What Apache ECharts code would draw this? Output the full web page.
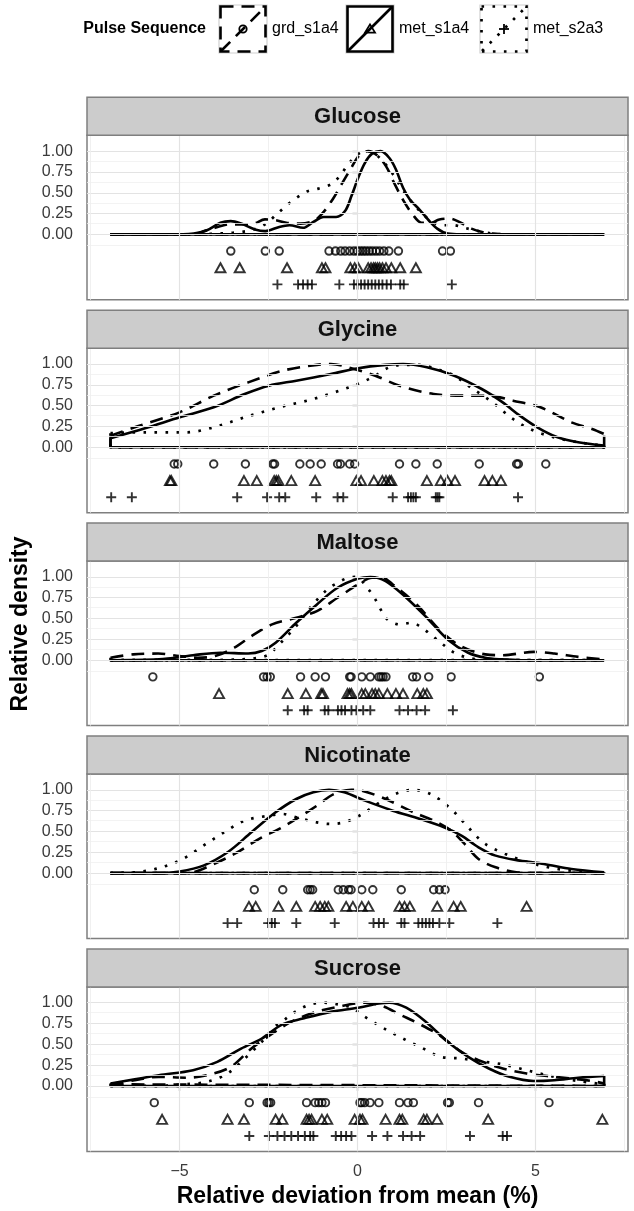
<!DOCTYPE html>
<html>
<head>
<meta charset="utf-8">
<script src="https://cdn.jsdelivr.net/npm/echarts@6/dist/echarts.min.js"></script>
<style>
  html, body { margin: 0; padding: 0; background: #ffffff; }
  #chart { width: 634px; height: 1211px; }
</style>
</head>
<body>
<div id="chart"></div>
<script>
// ---- data -------------------------------------------------------------
const compounds = ['Glucose', 'Glycine', 'Maltose', 'Nicotinate', 'Sucrose'];
const sequences = ['grd_s1a4', 'met_s1a4', 'met_s2a3'];
const yTicks = [0, 0.25, 0.5, 0.75, 1];
const xTicks = [-5, 0, 5];
// vertical level of each sequence's measurement row
const rugRows = [-0.2, -0.4, -0.6];

// relative density curves: [deviation %, density scaled to max 1]
const glucoseGrd = [[-6.94,0],[-4.6,0],[-4.3,0.04],[-4.0,0.08],[-3.6,0.12],[-3.2,0.12],[-2.9,0.13],[-2.6,0.18],[-2.3,0.17],[-2.0,0.14],[-1.6,0.13],[-1.2,0.17],[-0.95,0.27],[-0.7,0.42],[-0.45,0.6],[-0.2,0.78],[0.05,0.95],[0.3,1.0],[0.55,0.95],[0.8,0.82],[1.05,0.6],[1.3,0.4],[1.55,0.24],[1.8,0.14],[2.05,0.14],[2.3,0.18],[2.6,0.19],[2.9,0.14],[3.2,0.07],[3.5,0.03],[3.8,0.01],[4.1,0],[6.93,0]];
const glucoseMet = [[-6.94,0],[-4.9,0],[-4.6,0.01],[-4.23,0.05],[-3.85,0.14],[-3.56,0.16],[-3.27,0.13],[-2.88,0.06],[-2.59,0.04],[-2.2,0.09],[-1.91,0.11],[-1.53,0.08],[-1.24,0.15],[-0.95,0.21],[-0.6,0.21],[-0.35,0.28],[-0.17,0.46],[0.02,0.68],[0.21,0.86],[0.41,0.97],[0.65,1.0],[0.89,0.92],[1.08,0.78],[1.28,0.56],[1.47,0.42],[1.76,0.29],[2.0,0.17],[2.24,0.07],[2.53,0.01],[2.9,0],[6.93,0]];
const glucoseS2a3 = [[-6.94,0],[-4.5,0],[-4.0,0.01],[-3.5,0.02],[-3.0,0.05],[-2.6,0.12],[-2.25,0.25],[-1.9,0.38],[-1.45,0.51],[-1.1,0.55],[-0.75,0.6],[-0.5,0.7],[-0.25,0.85],[0.0,0.96],[0.2,1.0],[0.45,0.98],[0.75,0.86],[1.0,0.72],[1.25,0.55],[1.5,0.4],[1.8,0.26],[2.1,0.15],[2.4,0.11],[2.7,0.11],[3.0,0.08],[3.4,0.04],[3.8,0.01],[4.2,0],[6.93,0]];

const glycineGrd = [[-6.94,0.14],[-6.26,0.24],[-5.0,0.42],[-4.04,0.62],[-3.07,0.78],[-2.1,0.92],[-1.14,0.99],[-0.75,1.0],[-0.17,0.95],[0.5,0.86],[1.18,0.74],[2.14,0.64],[3.11,0.62],[3.69,0.62],[4.37,0.56],[5.14,0.48],[6.01,0.3],[6.59,0.22],[6.93,0.16]];
const glycineMet = [[-6.94,0.11],[-5.97,0.23],[-4.99,0.36],[-4.04,0.48],[-3.17,0.64],[-2.49,0.74],[-1.72,0.8],[-0.75,0.88],[0.02,0.95],[0.79,0.99],[1.28,1.0],[1.95,0.96],[2.72,0.86],[3.49,0.7],[4.08,0.54],[4.56,0.38],[5.05,0.24],[5.62,0.12],[6.2,0.06],[6.93,0.02]];
const glycineS2a3 = [[-6.94,0.17],[-6.0,0.18],[-4.8,0.18],[-4.04,0.24],[-3.17,0.36],[-2.2,0.48],[-1.24,0.58],[-0.37,0.7],[0.12,0.78],[0.5,0.86],[0.89,0.96],[1.28,0.99],[1.76,0.99],[2.22,0.94],[2.72,0.86],[3.11,0.74],[3.79,0.54],[4.37,0.34],[4.95,0.2],[5.53,0.12],[6.2,0.06],[6.93,0.02]];

const maltoseGrd = [[-6.94,0.03],[-6.3,0.07],[-5.6,0.08],[-5.0,0.05],[-4.5,0.03],[-4.0,0.05],[-3.46,0.15],[-2.98,0.29],[-2.4,0.43],[-1.72,0.51],[-1.14,0.59],[-0.56,0.75],[0.02,0.91],[0.41,0.99],[0.7,0.99],[0.99,0.91],[1.66,0.67],[2.34,0.35],[2.9,0.17],[3.59,0.07],[4.08,0.06],[4.95,0.1],[5.53,0.08],[6.2,0.04],[6.93,0.01]];
const maltoseMet = [[-6.94,0],[-5.58,0.01],[-4.62,0.06],[-3.85,0.09],[-3.07,0.08],[-2.69,0.11],[-2.3,0.21],[-1.72,0.45],[-1.14,0.67],[-0.56,0.87],[0.02,0.98],[0.36,1.0],[0.79,0.95],[1.37,0.75],[1.95,0.51],[2.53,0.25],[3.11,0.09],[3.59,0.03],[4.06,0.01],[4.6,0],[6.93,0]];
const maltoseS2a3 = [[-6.94,0],[-4.0,0],[-3.3,0.01],[-2.78,0.03],[-2.49,0.07],[-2.2,0.19],[-1.72,0.41],[-1.33,0.63],[-0.85,0.85],[-0.56,0.93],[-0.27,0.99],[-0.05,1.0],[0.31,0.85],[0.5,0.73],[0.65,0.61],[0.84,0.49],[1.18,0.43],[1.52,0.45],[1.81,0.39],[2.05,0.31],[2.34,0.21],[2.72,0.09],[3.11,0.03],[3.6,0],[6.93,0]];

const nicotinateGrd = [[-6.94,0],[-5.0,0],[-4.62,0.01],[-4.14,0.09],[-3.46,0.23],[-2.69,0.43],[-2.2,0.53],[-1.72,0.65],[-1.14,0.81],[-0.66,0.95],[-0.17,1.0],[0.12,0.99],[0.79,0.89],[1.57,0.73],[2.14,0.63],[2.63,0.51],[3.01,0.35],[3.4,0.17],[3.88,0.07],[4.46,0.01],[5.0,0],[6.93,0]];
const nicotinateMet = [[-6.94,0],[-5.58,0],[-5.0,0.02],[-4.33,0.09],[-3.65,0.25],[-2.98,0.49],[-2.3,0.73],[-1.72,0.89],[-1.24,0.97],[-0.8,1.0],[-0.37,0.97],[0.21,0.87],[0.99,0.75],[1.76,0.65],[2.43,0.55],[2.92,0.45],[3.4,0.31],[3.88,0.21],[4.56,0.15],[5.24,0.11],[6.01,0.05],[6.93,0.01]];
const nicotinateS2a3 = [[-6.94,0],[-6.26,0.01],[-5.58,0.06],[-4.91,0.17],[-4.33,0.33],[-3.75,0.49],[-3.17,0.63],[-2.49,0.69],[-2.1,0.71],[-1.72,0.67],[-1.14,0.61],[-0.75,0.59],[-0.37,0.61],[-0.08,0.66],[0.21,0.73],[0.7,0.87],[1.18,0.97],[1.57,1.0],[2.05,0.95],[2.63,0.77],[3.11,0.55],[3.59,0.35],[4.27,0.21],[4.95,0.11],[5.62,0.05],[6.49,0.01],[6.93,0]];

const sucroseGrd = [[-6.94,0.02],[-6.26,0.07],[-5.58,0.11],[-4.81,0.1],[-4.23,0.13],[-3.56,0.23],[-2.98,0.45],[-2.49,0.6],[-1.91,0.76],[-1.24,0.88],[-0.56,0.95],[0.21,1.0],[0.7,0.96],[1.18,0.86],[1.76,0.74],[2.34,0.6],[2.92,0.41],[3.4,0.31],[4.08,0.21],[4.75,0.15],[5.33,0.12],[6.01,0.09],[6.59,0.06],[6.93,0.03]];
const sucroseMet = [[-6.94,0.03],[-6.26,0.08],[-5.58,0.13],[-4.62,0.19],[-3.94,0.29],[-3.27,0.45],[-2.69,0.57],[-2.11,0.74],[-1.53,0.81],[-0.75,0.89],[0.02,0.94],[0.6,0.99],[0.89,1.0],[1.37,0.94],[1.95,0.76],[2.53,0.53],[3.11,0.35],[3.69,0.21],[4.27,0.11],[4.95,0.06],[5.53,0.07],[6.2,0.1],[6.93,0.12]];
const sucroseS2a3 = [[-6.94,0],[-5.6,0],[-4.91,0.02],[-4.23,0.05],[-3.65,0.15],[-3.17,0.33],[-2.69,0.53],[-2.3,0.72],[-2.01,0.81],[-1.72,0.9],[-1.33,0.98],[-0.95,1.0],[-0.56,0.98],[-0.17,0.94],[0.21,0.83],[0.79,0.68],[1.37,0.55],[1.76,0.47],[2.34,0.35],[2.92,0.33],[3.4,0.3],[4.08,0.26],[4.75,0.19],[5.53,0.11],[6.2,0.06],[6.93,0.02]];

// individual measurements (relative deviation from mean, %)
const glucoseGrdPts = [-3.56,-2.59,-2.2,-0.8,-0.62,-0.47,-0.35,-0.22,-0.1,0.0,0.08,0.16,0.24,0.33,0.42,0.52,0.62,0.74,0.88,1.15,2.39,2.61];
const glucoseMetPts = [-3.85,-3.31,-1.98,-1.0,-0.9,-0.2,-0.08,0.02,0.3,0.38,0.45,0.5,0.56,0.62,0.7,0.8,0.95,1.2,1.64];
const glucoseS2a3Pts = [-2.25,-1.67,-1.53,-1.4,-1.28,-0.51,-0.1,0.0,0.1,0.2,0.3,0.4,0.5,0.6,0.7,0.82,0.94,1.2,1.3,2.65];

const glycineGrdPts = [-5.15,-5.05,-4.04,-3.15,-2.38,-2.33,-1.62,-1.33,-1.02,-0.56,-0.48,-0.22,-0.08,1.18,1.64,2.24,3.42,4.47,4.52,5.29];
const glycineMetPts = [-5.27,-5.23,-3.19,-2.83,-2.34,-2.28,-2.22,-1.86,-1.19,-0.03,0.1,0.46,0.7,0.8,0.9,0.95,1.95,2.34,2.53,2.74,3.57,3.79,4.03];
const glycineS2a3Pts = [-6.92,-6.34,-3.38,-2.54,-2.2,-2.03,-1.16,-0.56,-0.4,0.99,1.42,1.5,1.57,1.64,2.2,2.25,2.3,4.51];

const maltoseGrdPts = [-5.75,-2.64,-2.54,-2.45,-1.6,-1.19,-0.9,-0.22,-0.18,0.12,0.36,0.6,0.66,0.72,0.8,1.55,1.66,2.0,2.63,5.11];
const maltoseMetPts = [-3.89,-1.96,-1.45,-1.02,-0.97,-0.28,-0.22,-0.17,0.12,0.22,0.41,0.5,0.6,0.84,1.08,1.28,1.68,1.85,1.95];
const maltoseS2a3Pts = [-1.96,-1.5,-1.4,-0.92,-0.82,-0.55,-0.45,-0.35,-0.17,-0.03,0.16,0.36,1.18,1.42,1.66,1.9,2.68];

const nicotinateGrdPts = [-2.9,-2.1,-1.4,-1.33,-1.26,-0.54,-0.4,-0.25,-0.18,0.12,0.43,1.23,2.14,2.3,2.46];
const nicotinateMetPts = [-3.05,-2.86,-2.22,-1.72,-1.19,-1.05,-0.92,-0.82,-0.32,-0.13,0.12,0.31,1.18,1.32,1.47,2.24,2.7,2.9,4.75];
const nicotinateS2a3Pts = [-3.65,-3.38,-2.51,-2.41,-2.32,-1.72,-0.64,0.45,0.6,0.74,1.23,1.32,1.71,1.82,1.92,2.02,2.12,2.3,2.58,3.93];

const sucroseGrdPts = [-5.71,-3.04,-2.54,-2.49,-2.44,-1.43,-1.19,-1.09,-1.0,-0.9,0.07,0.12,0.2,0.35,0.6,1.18,1.42,1.57,2.53,2.58,3.4,5.38];
const sucroseMetPts = [-5.49,-3.65,-3.19,-2.3,-2.11,-1.43,-1.36,-1.29,-1.0,-0.85,-0.08,0.07,0.14,0.79,1.18,1.26,1.86,1.95,2.24,3.67,6.88];
const sucroseS2a3Pts = [-3.04,-2.49,-2.25,-2.05,-1.86,-1.67,-1.48,-1.33,-1.24,-0.61,-0.46,-0.32,-0.17,0.41,0.84,1.28,1.52,1.76,3.16,4.08,4.2];

const curves = [
  [glucoseGrd, glucoseMet, glucoseS2a3],
  [glycineGrd, glycineMet, glycineS2a3],
  [maltoseGrd, maltoseMet, maltoseS2a3],
  [nicotinateGrd, nicotinateMet, nicotinateS2a3],
  [sucroseGrd, sucroseMet, sucroseS2a3]
];
const points = [
  [glucoseGrdPts, glucoseMetPts, glucoseS2a3Pts],
  [glycineGrdPts, glycineMetPts, glycineS2a3Pts],
  [maltoseGrdPts, maltoseMetPts, maltoseS2a3Pts],
  [nicotinateGrdPts, nicotinateMetPts, nicotinateS2a3Pts],
  [sucroseGrdPts, sucroseMetPts, sucroseS2a3Pts]
];

// ---- layout & style -----------------------------------------------------
const FONT = '"Liberation Sans", Arial, Helvetica, sans-serif';
const plotLeft = 87, plotRight = 628;
const stripTop0 = 97.3, panelStep = 212.9, stripH = 38, plotH = 164.5;
const xMin = -7.6, xMax = 7.6, yMin = -0.785, yMax = 1.19;
const dashes = [[13, 8], 'solid', [2.6, 8.4]];
const widths = [2.6, 2.6, 2.7];
const PLUS = 'path://M0,5L10,5M5,0L5,10';
const symbols = ['circle', 'triangle', PLUS];
const symbolSizes = [7.5, [10, 9], 10];

const grids = [], xAxes = [], yAxes = [], series = [], graphics = [];

compounds.forEach((name, i) => {
  const stripTop = stripTop0 + i * panelStep;
  const top = stripTop + stripH;
  const last = i === compounds.length - 1;
  grids.push({
    left: plotLeft, top: top, width: plotRight - plotLeft, height: plotH,
    show: true, backgroundColor: '#ffffff', borderColor: '#7f7f7f', borderWidth: 1.5,
    outerBoundsMode: 'none'
  });
  xAxes.push({
    type: 'value', gridIndex: i, min: xMin, max: xMax,
    axisLine: { show: false }, splitLine: { show: false },
    axisTick: last ? { show: true, customValues: xTicks, length: 5, lineStyle: { color: '#333333', width: 1.2 } } : { show: false },
    axisLabel: last ? {
      show: true, customValues: xTicks, margin: 12, fontSize: 16, color: '#3a3a3a', fontFamily: FONT,
      formatter: v => (v < 0 ? '\u2212' + Math.abs(v) : String(v))
    } : { show: false },
    name: last ? 'Relative deviation from mean (%)' : '',
    nameLocation: 'middle', nameGap: 34,
    nameTextStyle: { fontSize: 23, fontWeight: 'bold', color: '#000', fontFamily: FONT }
  });
  yAxes.push({
    type: 'value', gridIndex: i, min: yMin, max: yMax,
    axisLine: { show: false }, splitLine: { show: false },
    axisTick: { show: true, customValues: yTicks, length: 5, lineStyle: { color: '#333333', width: 1.2 } },
    axisLabel: {
      show: true, customValues: yTicks, margin: 14, fontSize: 16, color: '#3a3a3a', fontFamily: FONT,
      formatter: v => v.toFixed(2)
    }
  });

  // panel grid lines (major + minor)
  const gl = [];
  yTicks.forEach(v => gl.push({ yAxis: v, lineStyle: { color: '#e3e3e3', width: 1.2, type: 'solid' } }));
  [-0.125, 0.125, 0.375, 0.625, 0.875].forEach(v => gl.push({ yAxis: v, lineStyle: { color: '#f0f0f0', width: 0.8, type: 'solid' } }));
  xTicks.forEach(v => gl.push({ xAxis: v, lineStyle: { color: '#e3e3e3', width: 1.2, type: 'solid' } }));
  [-7.5, -2.5, 2.5, 7.5].forEach(v => gl.push({ xAxis: v, lineStyle: { color: '#eeeeee', width: 0.9, type: 'solid' } }));
  series.push({
    type: 'line', xAxisIndex: i, yAxisIndex: i, data: [], silent: true, z: 1,
    markLine: { silent: true, symbol: ['none', 'none'], label: { show: false }, animation: false, data: gl }
  });

  sequences.forEach((seq, j) => {
    const c = curves[i][j];
    const first = c[0], lastPt = c[c.length - 1];
    const style = { color: '#000', width: widths[j], type: dashes[j], cap: 'butt', join: 'round' };
    // density outline
    series.push({
      name: seq, type: 'line', xAxisIndex: i, yAxisIndex: i, data: c,
      smooth: 0.33, showSymbol: false, symbol: 'none',
      lineStyle: style, silent: true, z: 3, animation: false
    });
    // closing edges and baseline of the density polygon
    series.push({
      name: seq, type: 'line', xAxisIndex: i, yAxisIndex: i,
      data: [[first[0], first[1]], [first[0], 0], [lastPt[0], 0], [lastPt[0], lastPt[1]]],
      smooth: false, showSymbol: false, symbol: 'none',
      lineStyle: style, silent: true, z: 3, animation: false
    });
    // measurement rows
    series.push({
      name: seq, type: 'scatter', xAxisIndex: i, yAxisIndex: i,
      data: points[i][j].map(x => [x, rugRows[j]]),
      symbol: symbols[j], symbolSize: symbolSizes[j],
      itemStyle: { color: 'rgba(0,0,0,0)', borderColor: '#000', borderWidth: 1.9 },
      silent: true, z: 4, animation: false
    });
  });

  // facet strip
  graphics.push({
    type: 'rect', shape: { x: plotLeft, y: stripTop, width: plotRight - plotLeft, height: stripH },
    style: { fill: '#cccccc', stroke: '#7f7f7f', lineWidth: 1.5 }, z: 10
  });
  graphics.push({
    type: 'text', x: (plotLeft + plotRight) / 2, y: stripTop + stripH / 2 + 1,
    style: { text: name, fontSize: 22, fontWeight: 'bold', fill: '#111111', fontFamily: FONT, align: 'center', verticalAlign: 'middle' },
    z: 11
  });
});

// y axis title
graphics.push({
  type: 'text', x: 21, y: 624, rotation: Math.PI / 2,
  style: { text: 'Relative density', fontSize: 23, fontWeight: 'bold', fill: '#000', fontFamily: FONT, align: 'center', verticalAlign: 'middle' },
  z: 11
});

// legend
const legendY = 5, keyS = 48;
const legendTitleRight = 206;
const keyX = [219, 346, 480];
graphics.push({
  type: 'text', x: legendTitleRight, y: legendY + keyS / 2,
  style: { text: 'Pulse Sequence', fontSize: 16, fontWeight: 'bold', fill: '#000', fontFamily: FONT, align: 'right', verticalAlign: 'middle' }
});
sequences.forEach((seq, j) => {
  const x = keyX[j], y = legendY, s = keyS;
  const dash = Array.isArray(dashes[j]) ? dashes[j] : null;
  const ls = { stroke: '#000', lineWidth: widths[j], lineDash: dash, fill: 'none' };
  graphics.push({ type: 'rect', shape: { x: x, y: y, width: s, height: s }, style: { fill: '#ffffff', stroke: '#d0d0d0', lineWidth: 1.2 } });
  graphics.push({ type: 'rect', shape: { x: x + 1.5, y: y + 1.5, width: s - 3, height: s - 3 }, style: Object.assign({}, ls) });
  graphics.push({ type: 'line', shape: { x1: x + 2, y1: y + s - 2, x2: x + s - 2, y2: y + 2 }, style: Object.assign({}, ls) });
  const cx = x + s / 2, cy = y + s / 2;
  const ps = { stroke: '#000', lineWidth: 1.8, fill: 'none' };
  if (j === 0) {
    graphics.push({ type: 'circle', shape: { cx: cx, cy: cy, r: 3.7 }, style: ps });
  } else if (j === 1) {
    graphics.push({ type: 'polygon', shape: { points: [[cx, cy - 4.6], [cx + 5, cy + 3.6], [cx - 5, cy + 3.6]] }, style: ps });
  } else {
    graphics.push({ type: 'polyline', shape: { points: [[cx - 5, cy], [cx + 5, cy]] }, style: ps });
    graphics.push({ type: 'polyline', shape: { points: [[cx, cy - 5], [cx, cy + 5]] }, style: ps });
  }
  graphics.push({
    type: 'text', x: x + s + 5, y: y + s / 2,
    style: { text: seq, fontSize: 16, fill: '#000', fontFamily: FONT, align: 'left', verticalAlign: 'middle' }
  });
});

const chart = echarts.init(document.getElementById('chart'), null, { renderer: 'canvas' });
chart.setOption({
  animation: false,
  backgroundColor: '#ffffff',
  grid: grids,
  xAxis: xAxes,
  yAxis: yAxes,
  series: series,
  graphic: { elements: graphics }
});
</script>
</body>
</html>
